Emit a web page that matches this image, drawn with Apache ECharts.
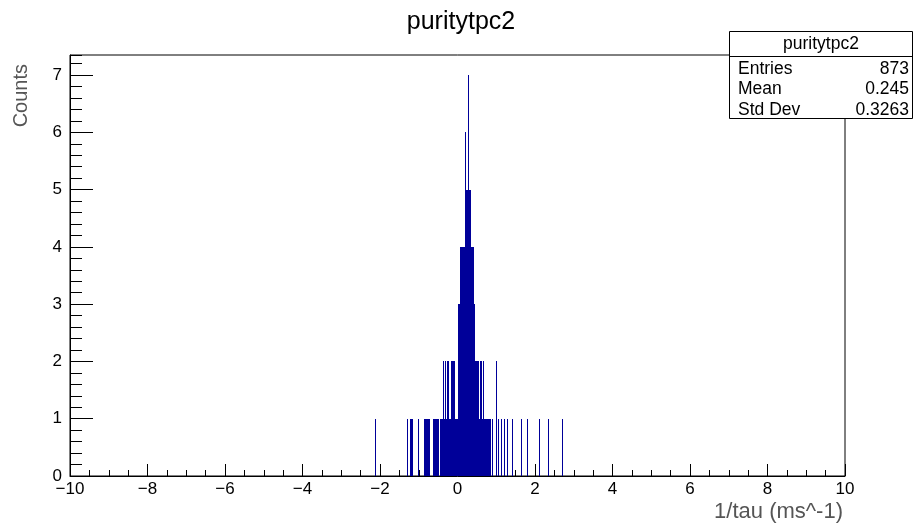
<!DOCTYPE html>
<html><head><meta charset="utf-8">
<script src="https://cdn.jsdelivr.net/npm/echarts@6/dist/echarts.min.js"></script>
<style>html,body{margin:0;padding:0;background:#fff}#c{width:922px;height:529px}</style>
</head><body><div id="c"></div><script>
// ---- texts ----
const chartTitle = 'puritytpc2';
const xTitle = '1/tau (ms^-1)';
const yTitle = 'Counts';
const statsNames = ['Entries', 'Mean', 'Std Dev'];
const statsValues = ['873', '0.245', '0.3263'];

// ---- axes ----
const xMin = -10, xMax = 10, xStep = 2;
const yMin = 0, yMax = 7.35, yStep = 1;

// ---- histogram (bin width 0.002): filled runs of bins [low edge, high edge, count] ----
const binWidth = 0.002;
const runLow   = [-0.865, -0.775, -0.63, -0.57, -0.455, -0.155, -0.115, 0.0,   0.02, 0.065, 0.125, 0.335, 0.195];
const runHigh  = [-0.795, -0.705, -0.585, -0.475, 0.865, -0.125, -0.06, 0.555, 0.45, 0.115, 0.32,  0.43,  0.345];
const runCount = [1,      1,      1,      1,      1,     2,      2,     2,     3,    4,     4,     4,     5];

// ---- isolated single bins ----
const spikeX     = [-2.12, -1.31, -1.22, -1.19, -1.165, -1.01, 0.90, 1.05, 1.13, 1.21, 1.28, 1.40, 1.63, 1.79, 2.10, 2.34, 2.70,
                    -0.37, -0.325, -0.28, -0.235, 0.575, 0.61, 0.65, 0.67, 0.99, 0.20, 0.265];
const spikeCount = [1, 1, 1, 1, 1, 1, 1, 1, 1, 1, 1, 1, 1, 1, 1, 1, 1,
                    2, 2, 2, 2, 2, 2, 2, 2, 2, 6, 7];

const histData = [];
for (let i = 0; i < runLow.length; i++) histData.push([runLow[i], runHigh[i], runCount[i]]);
for (let i = 0; i < spikeX.length; i++) histData.push([spikeX[i], spikeX[i] + binWidth, spikeCount[i]]);

const FONT = '"Liberation Sans", Arial, Helvetica, sans-serif';
const fmtMinus = v => String(v).replace('-', '\u2212');

const chart = echarts.init(document.getElementById('c'), null, {renderer: 'canvas'});
chart.setOption({
  animation: false,
  backgroundColor: '#fff',
  title: {
    text: chartTitle, left: 'center', top: 5,
    textStyle: {fontFamily: FONT, fontSize: 25, fontWeight: 'normal', color: '#000'}
  },
  grid: {left: 70, right: 77, top: 55, bottom: 53, show: true, borderColor: '#000', borderWidth: 1, backgroundColor: 'transparent'},
  xAxis: [{
    type: 'value', min: xMin, max: xMax, interval: xStep,
    axisLine: {show: true, onZero: false, lineStyle: {color: '#000', width: 1}},
    axisTick: {show: true, inside: true, length: 12, lineStyle: {color: '#000'}},
    minorTick: {show: true, splitNumber: 4, length: 6, lineStyle: {color: '#000'}},
    splitLine: {show: false}, minorSplitLine: {show: false},
    axisLabel: {margin: 5, fontFamily: FONT, fontSize: 17, color: '#000', formatter: fmtMinus}
  }],
  yAxis: [{
    type: 'value', min: yMin, max: yMax, interval: yStep, position: 'left',
    axisLine: {show: true, onZero: false, lineStyle: {color: '#000', width: 1}},
    axisTick: {show: true, inside: true, length: 23, lineStyle: {color: '#000'}},
    splitLine: {show: false},
    axisLabel: {margin: 8, fontFamily: FONT, fontSize: 17, color: '#000', showMaxLabel: false}
  }, {
    type: 'value', min: yMin, max: yMax, interval: 0.2, position: 'left', offset: 0,
    axisLine: {show: false, onZero: false},
    axisTick: {show: true, inside: true, length: 12, lineStyle: {color: '#000'}},
    splitLine: {show: false},
    axisLabel: {show: false}
  }],
  series: [{
    type: 'custom',
    xAxisIndex: 0, yAxisIndex: 0,
    data: histData,
    encode: {x: [0, 1], y: 2},
    renderItem: function (params, api) {
      const p0 = api.coord([api.value(0), api.value(2)]);
      const p1 = api.coord([api.value(1), 0]);
      const x = Math.round(p0[0]);
      const w = Math.max(1, Math.round(p1[0]) - x);
      const y = Math.round(p0[1]);
      return {
        type: 'rect',
        shape: {x: x, y: y, width: w, height: Math.round(p1[1]) - y},
        style: {fill: '#000099'}
      };
    }
  }],
  graphic: [
    {type: 'text', left: 11, top: 64, rotation: Math.PI / 2, style: {text: yTitle, fontFamily: FONT, fontSize: 20, fill: '#555'}},
    {type: 'text', right: 79, top: 501, style: {text: xTitle, fontFamily: FONT, fontSize: 22, fill: '#555'}},
    {type: 'rect', shape: {x: 729.5, y: 31.5, width: 183, height: 87}, style: {fill: '#fff', stroke: '#000', lineWidth: 1}, z: 100},
    {type: 'line', shape: {x1: 729.5, y1: 56.5, x2: 912.5, y2: 56.5}, style: {stroke: '#000', lineWidth: 1}, z: 101},
    {type: 'text', x: 821, y: 44, style: {text: chartTitle, fontFamily: FONT, fontSize: 17.5, fill: '#000', align: 'center', verticalAlign: 'middle'}, z: 101},
    {type: 'text', x: 738, y: 69, style: {text: statsNames[0], fontFamily: FONT, fontSize: 17.5, fill: '#000', align: 'left', verticalAlign: 'middle'}, z: 101},
    {type: 'text', x: 909, y: 69, style: {text: statsValues[0], fontFamily: FONT, fontSize: 17.5, fill: '#000', align: 'right', verticalAlign: 'middle'}, z: 101},
    {type: 'text', x: 738, y: 89, style: {text: statsNames[1], fontFamily: FONT, fontSize: 17.5, fill: '#000', align: 'left', verticalAlign: 'middle'}, z: 101},
    {type: 'text', x: 909, y: 89, style: {text: statsValues[1], fontFamily: FONT, fontSize: 17.5, fill: '#000', align: 'right', verticalAlign: 'middle'}, z: 101},
    {type: 'text', x: 738, y: 110, style: {text: statsNames[2], fontFamily: FONT, fontSize: 17.5, fill: '#000', align: 'left', verticalAlign: 'middle'}, z: 101},
    {type: 'text', x: 909, y: 110, style: {text: statsValues[2], fontFamily: FONT, fontSize: 17.5, fill: '#000', align: 'right', verticalAlign: 'middle'}, z: 101}
  ]
});
</script></body></html>
